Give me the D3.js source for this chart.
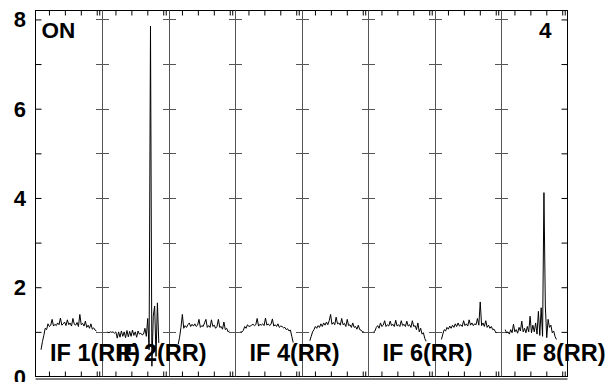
<!DOCTYPE html>
<html><head><meta charset="utf-8">
<script src="https://cdn.jsdelivr.net/npm/d3@7"></script>
<style>body{margin:0;background:#fff}svg{display:block}text{font-family:"Liberation Sans",Arial,sans-serif;font-weight:bold;fill:#000}</style>
</head><body><svg id="c" width="609" height="382"></svg>
<script>
// ---- data ----
const panelLabels = ["IF 1(RR)","IF 2(RR)","","IF 4(RR)","","IF 6(RR)","","IF 8(RR)"];
const panelStart = [4,4,7,4,6,4,5,3]; // first channel of each trace
const if1 = [0.60,0.78,0.92,1.08,1.05,1.18,1.12,1.15,1.28,1.13,1.17,1.14,1.2,1.16,1.31,1.15,1.18,1.22,1.14,1.27,1.16,1.2,1.13,1.3,1.17,1.15,1.21,1.12,1.39,1.16,1.19,1.13,1.24,1.1,1.15,1.08,1.18,1.06,1.09,1.04,1.02];
const if2 = [1.0,0.98,1.0,0.99,1.0,0.97,1.0,0.86,1.0,0.88,1.02,0.9,1.0,0.87,1.03,0.89,1.01,0.9,1.04,0.92,1.0,0.88,1.02,0.95,0.97,0.93,0.95,1.08,0.9,1.3,0.6,7.85,0.23,1.35,1.58,0.45,1.65,0.75];
const if3 = [0.72,0.88,1.1,1.39,1.08,1.14,1.1,1.16,1.2,1.12,1.17,1.13,1.18,1.12,1.15,1.28,1.1,1.14,1.12,1.2,1.28,1.1,1.14,1.1,1.27,1.12,1.15,1.08,1.12,1.28,1.1,1.12,1.06,1.22,1.05,1.08,1.0,1.02];
const if4 = [1.0,1.0,1.03,1.12,1.08,1.16,1.12,1.13,1.15,1.17,1.14,1.16,1.3,1.13,1.17,1.15,1.18,1.14,1.31,1.15,1.18,1.14,1.17,1.29,1.13,1.16,1.12,1.18,1.1,1.13,1.12,1.09,1.1,1.05,1.07,1.02,1.04,0.9,0.76];
const if5 = [0.8,0.9,1.0,1.05,1.12,1.08,1.14,1.1,1.18,1.12,1.2,1.15,1.22,1.16,1.25,1.39,1.17,1.21,1.16,1.33,1.18,1.2,1.15,1.3,1.16,1.19,1.12,1.28,1.14,1.16,1.1,1.2,1.1,1.12,1.06,1.15,1.05,1.04,1.0,1.0];
const if6 = [1.0,1.02,1.1,1.14,1.08,1.2,1.12,1.15,1.25,1.12,1.16,1.13,1.24,1.14,1.17,1.12,1.26,1.13,1.16,1.12,1.25,1.14,1.17,1.12,1.24,1.13,1.16,1.1,1.25,1.12,1.14,1.05,1.2,1.0,1.08,0.95,0.98,0.85,0.79];
const if7 = [0.83,0.95,1.05,1.02,1.1,1.06,1.13,1.08,1.15,1.1,1.18,1.12,1.2,1.13,1.16,1.12,1.25,1.14,1.18,1.13,1.27,1.15,1.2,1.14,1.18,1.16,1.3,1.15,1.67,1.14,1.2,1.12,1.25,1.1,1.15,1.08,1.12,1.05,1.06,1.0,0.98];
const if8 = [1.05,0.98,1.0,0.95,1.05,0.98,1.17,1.0,1.05,0.97,1.1,1.02,1.24,1.0,1.08,0.98,1.12,1.0,1.35,0.98,1.15,1.0,1.2,0.95,1.46,0.92,1.54,0.9,4.12,1.58,0.87,1.28,1.1,1.15,0.98,1.02,0.9,0.83];
const series = [if1,if2,if3,if4,if5,if6,if7,if8];
const chPerPanel = 48;
const xTickCh = [9.7,21.2,32.7,44.2,46.0];
const yTicks = [0,1,2,3,4,5,6,7,8];
const yLabels = [0,2,4,6,8];
const cornerLeft = "ON", cornerRight = "4";

// ---- layout ----
const L=35.5, R=567.5, T=10.5, B=376.5;
const svg = d3.select("#c");
const x = d3.scaleLinear().domain([0, 8*chPerPanel]).range([L,R]);
const y = d3.scaleLinear().domain([0,8.2]).range([B,T]);

// frame
svg.append("rect").attr("x",L).attr("y",T).attr("width",R-L).attr("height",B-T)
  .attr("fill","none").attr("stroke","#000").attr("stroke-width",1);
svg.append("line").attr("x1",L).attr("x2",R).attr("y1",B+2.5).attr("y2",B+2.5).attr("stroke","#000");

// dividers
for(let p=1;p<8;p++){
  const xv = Math.round(x(p*chPerPanel))+0.5;
  svg.append("line").attr("x1",xv).attr("x2",xv).attr("y1",T).attr("y2",B).attr("stroke","#555");
  yTicks.slice(1).forEach(t=>{
    svg.append("line").attr("x1",xv-6.5).attr("x2",xv+6.5).attr("y1",Math.round(y(t))+0.5).attr("y2",Math.round(y(t))+0.5).attr("stroke","#555");
  });
}
// left / right y ticks
const yAxisL = d3.axisRight(y).tickValues(yTicks.slice(1)).tickSize(6).tickFormat("");
const gL = svg.append("g").attr("transform",`translate(${L},0)`).call(yAxisL);
gL.select(".domain").remove();
const yAxisR = d3.axisLeft(y).tickValues(yTicks.slice(1)).tickSize(6).tickFormat("");
const gR = svg.append("g").attr("transform",`translate(${R},0)`).call(yAxisR);
gR.select(".domain").remove();
// y labels
svg.selectAll("text.yl").data(yLabels).enter().append("text").attr("class","yl")
  .attr("x",26).attr("y",d=>y(d)+8).attr("text-anchor","end").attr("font-size",22).text(d=>d);

// top/bottom ticks
const allTicks = [];
for(let p=0;p<8;p++) xTickCh.forEach(c=>allTicks.push(p*chPerPanel+c));
const xb = svg.append("g").attr("transform",`translate(0,${B})`).call(d3.axisTop(x).tickValues(allTicks).tickSize(5).tickFormat(""));
xb.select(".domain").remove();
const xt = svg.append("g").attr("transform",`translate(0,${T})`).call(d3.axisBottom(x).tickValues(allTicks).tickSize(5).tickFormat(""));
xt.select(".domain").remove();
svg.selectAll(".tick line").attr("stroke","#000");

// traces
const line = d3.line().x(d=>x(d[0])).y(d=>y(d[1]));
series.forEach((s,p)=>{
  const pts = s.map((v,i)=>[p*chPerPanel+panelStart[p]+i, v]);
  svg.append("path").attr("d",line(pts)).attr("fill","none").attr("stroke","#000").attr("stroke-width",1);
});

// labels
panelLabels.forEach((t,p)=>{
  if(!t) return;
  svg.append("text").attr("x",x(p*chPerPanel)+14.5).attr("y",361).attr("font-size",23.5).text(t);
});
svg.append("text").attr("x",41.5).attr("y",37.5).attr("font-size",22.5).text(cornerLeft);
svg.append("text").attr("x",551.5).attr("y",37.5).attr("text-anchor","end").attr("font-size",22.5).text(cornerRight);
</script></body></html>
